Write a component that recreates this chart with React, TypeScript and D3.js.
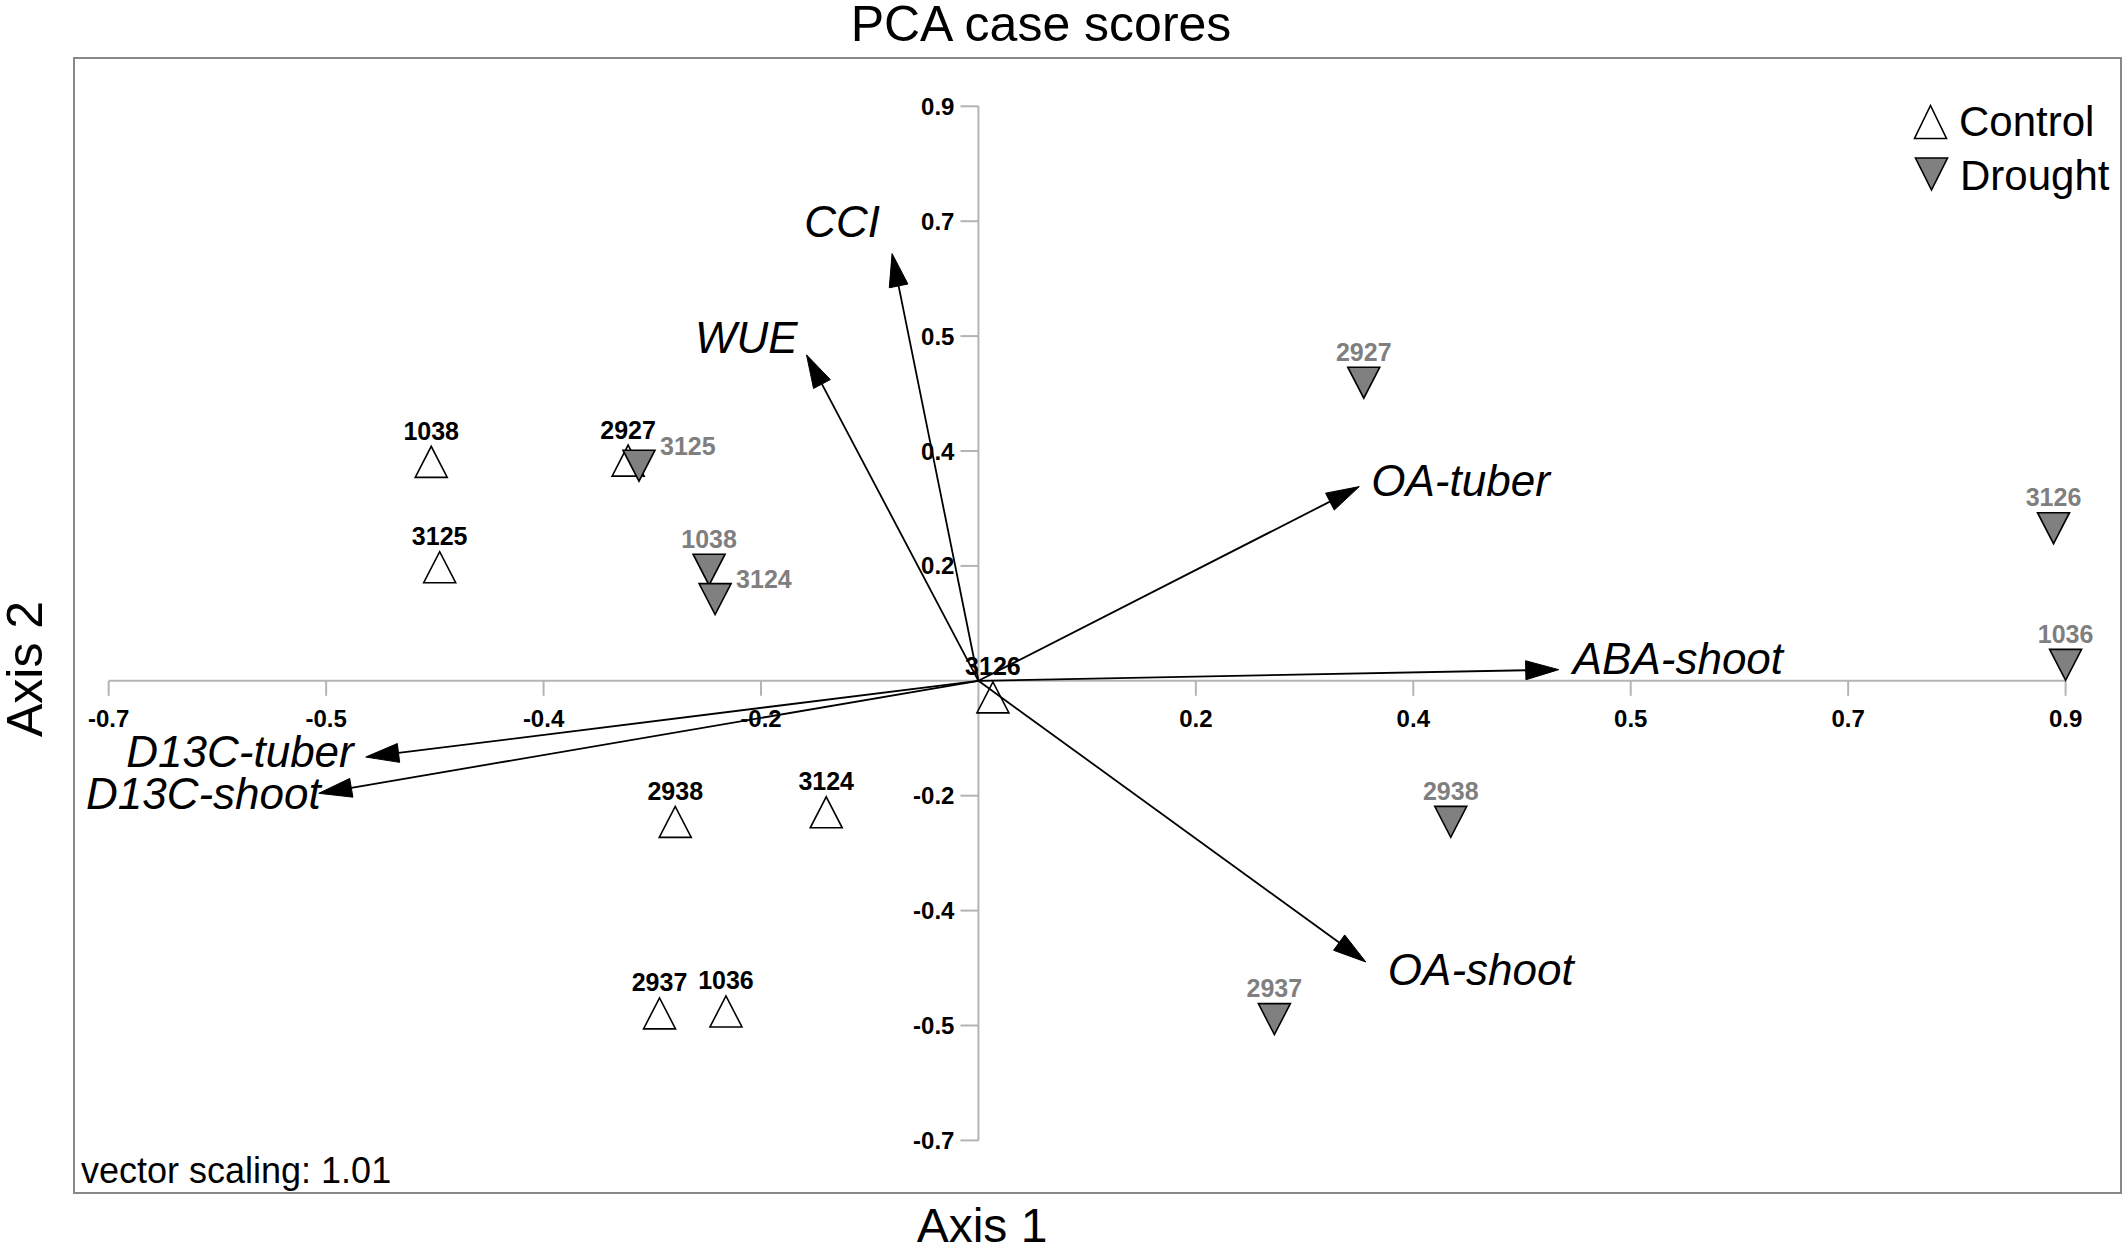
import React from "react";
import * as d3 from "d3";

// ---------- data ----------
const controlIds = ["1038", "2927", "3125", "2938", "3124", "2937", "1036", "3126"];
const controlAxis1 = [-0.453, -0.290, -0.446, -0.251, -0.126, -0.264, -0.209, 0.012];
const controlAxis2 = [0.343, 0.345, 0.178, -0.221, -0.206, -0.521, -0.518, -0.026];

const droughtIds = ["3125", "1038", "3124", "2927", "3126", "1036", "2938", "2937"];
const droughtAxis1 = [-0.281, -0.223, -0.218, 0.319, 0.890, 0.900, 0.391, 0.245];
const droughtAxis2 = [0.337, 0.174, 0.128, 0.467, 0.239, 0.025, -0.221, -0.530];
const droughtLabelRight = ["3125", "3124"];

const vectorNames = ["CCI", "WUE", "OA-tuber", "ABA-shoot", "OA-shoot", "D13C-tuber", "D13C-shoot"];
const vectorAxis1 = [-0.0715, -0.1423, 0.3153, 0.4804, 0.3207, -0.5072, -0.5461];
const vectorAxis2 = [0.6693, 0.5106, 0.3042, 0.0175, -0.4405, -0.1194, -0.1763];

const tickValues = [-0.72, -0.54, -0.36, -0.18, 0.18, 0.36, 0.54, 0.72, 0.9];
const tickLabels = ["-0.7", "-0.5", "-0.4", "-0.2", "0.2", "0.4", "0.5", "0.7", "0.9"];

const titleText = "PCA case scores";
const xTitle = "Axis 1";
const yTitle = "Axis 2";
const scalingNote = "vector scaling: 1.01";
const legendLabels = ["Control", "Drought"];

// ---------- styles (label placement for vectors) ----------
const vectorLabelStyle: Record<string, { dx: number; dy: number; anchor: string }> = {
  "CCI": { dx: -12, dy: -17, anchor: "end" },
  "WUE": { dx: -9, dy: -2, anchor: "end" },
  "OA-tuber": { dx: 12, dy: 9, anchor: "start" },
  "ABA-shoot": { dx: 14, dy: 4, anchor: "start" },
  "OA-shoot": { dx: 22, dy: 23, anchor: "start" },
  "D13C-tuber": { dx: -12, dy: 10, anchor: "end" },
  "D13C-shoot": { dx: 2, dy: 16, anchor: "end" },
};

const W = 2128;
const H = 1256;
const FONT = "'Liberation Sans', Arial, Helvetica, sans-serif";
const GRAY = "#7f7f7f";
const AXIS = "#b4b4b4";

function tri(cx: number, cy: number, up: boolean, w = 32, h = 31) {
  const hw = w / 2, hh = h / 2;
  if (up) return `M${cx - hw},${cy + hh}L${cx + hw},${cy + hh}L${cx},${cy - hh}Z`;
  return `M${cx - hw},${cy - hh}L${cx + hw},${cy - hh}L${cx},${cy + hh}Z`;
}

export default function App() {
  const x = d3.scaleLinear().domain([-0.72, 0.9]).range([108.7, 2065.6]);
  const y = d3.scaleLinear().domain([-0.72, 0.9]).range([1140.4, 106.3]);
  const ox = x(0), oy = y(0);

  const control = controlIds.map((id, i) => ({ id, cx: x(controlAxis1[i]), cy: y(controlAxis2[i]) }));
  const drought = droughtIds.map((id, i) => ({ id, cx: x(droughtAxis1[i]), cy: y(droughtAxis2[i]) }));
  const vectors = vectorNames.map((n, i) => ({ n, tx: x(vectorAxis1[i]), ty: y(vectorAxis2[i]) }));

  const headLen = 33, headHalf = 9.5;

  return (
    <svg
      width={W}
      height={H}
      viewBox={`0 0 ${W} ${H}`}
      style={{ position: "absolute", left: 0, top: 0, background: "#fff" }}
      fontFamily={FONT}
    >
      <rect x={0} y={0} width={W} height={H} fill="#fff" />
      {/* title */}
      <text x={1041} y={41} fontSize={50} textAnchor="middle" fill="#000">{titleText}</text>
      {/* frame */}
      <rect x={74} y={58} width={2047} height={1135} fill="none" stroke="#888" strokeWidth={2} />

      {/* axes */}
      <line x1={x(-0.72)} x2={x(0.9)} y1={oy} y2={oy} stroke={AXIS} strokeWidth={2} />
      <line x1={ox} x2={ox} y1={y(0.9)} y2={y(-0.72)} stroke={AXIS} strokeWidth={2} />
      {tickValues.map((v, i) => (
        <g key={"xt" + i}>
          <line x1={x(v)} x2={x(v)} y1={oy} y2={oy + 15} stroke={AXIS} strokeWidth={2} />
          <text x={x(v)} y={oy + 46} fontSize={24} fontWeight="bold" textAnchor="middle" fill="#000">
            {tickLabels[i]}
          </text>
        </g>
      ))}
      {tickValues.map((v, i) => (
        <g key={"yt" + i}>
          <line x1={ox - 18} x2={ox} y1={y(v)} y2={y(v)} stroke={AXIS} strokeWidth={2} />
          <text x={ox - 24} y={y(v) + 8.5} fontSize={24} fontWeight="bold" textAnchor="end" fill="#000">
            {tickLabels[i]}
          </text>
        </g>
      ))}

      {/* control points */}
      {control.map((p) => (
        <g key={"c" + p.id}>
          <path d={tri(p.cx, p.cy, true)} fill="#fff" stroke="#000" strokeWidth={1.6} />
          <text x={p.cx} y={p.cy - 22} fontSize={25} fontWeight="bold" textAnchor="middle" fill="#000">
            {p.id}
          </text>
        </g>
      ))}
      {/* drought points */}
      {drought.map((p) => {
        const right = droughtLabelRight.includes(p.id);
        return (
          <g key={"d" + p.id}>
            <path d={tri(p.cx, p.cy, false)} fill="#808080" stroke="#000" strokeWidth={1.6} />
            <text
              x={right ? p.cx + 21 : p.cx}
              y={right ? p.cy - 11 : p.cy - 22}
              fontSize={25}
              fontWeight="bold"
              textAnchor={right ? "start" : "middle"}
              fill={GRAY}
            >
              {p.id}
            </text>
          </g>
        );
      })}

      {/* vectors */}
      {vectors.map((v) => {
        const dx = v.tx - ox, dy = v.ty - oy;
        const len = Math.hypot(dx, dy);
        const ux = dx / len, uy = dy / len;
        const bx = v.tx - ux * headLen, by = v.ty - uy * headLen;
        const px = -uy, py = ux;
        const head = `M${v.tx},${v.ty}L${bx + px * headHalf},${by + py * headHalf}L${bx - px * headHalf},${by - py * headHalf}Z`;
        const st = vectorLabelStyle[v.n];
        return (
          <g key={"v" + v.n}>
            <line x1={ox} y1={oy} x2={bx} y2={by} stroke="#000" strokeWidth={1.8} />
            <path d={head} fill="#000" stroke="#000" strokeWidth={1} />
            <text
              x={v.tx + st.dx}
              y={v.ty + st.dy}
              fontSize={44}
              fontStyle="italic"
              textAnchor={st.anchor}
              fill="#000"
            >
              {v.n}
            </text>
          </g>
        );
      })}

      {/* legend */}
      <path d={tri(1930.5, 122, true, 32, 33)} fill="#fff" stroke="#000" strokeWidth={1.6} />
      <text x={1959} y={136} fontSize={42} fill="#000">{legendLabels[0]}</text>
      <path d={tri(1931.5, 174, false, 32, 32)} fill="#808080" stroke="#000" strokeWidth={1.6} />
      <text x={1960} y={190} fontSize={42} fill="#000">{legendLabels[1]}</text>

      {/* notes & axis titles */}
      <text x={81} y={1183} fontSize={36} fill="#000">{scalingNote}</text>
      <text x={982} y={1242} fontSize={48} textAnchor="middle" fill="#000">{xTitle}</text>
      <text
        transform="translate(42,669) rotate(-90)"
        fontSize={50}
        textAnchor="middle"
        fill="#000"
      >
        {yTitle}
      </text>
    </svg>
  );
}
